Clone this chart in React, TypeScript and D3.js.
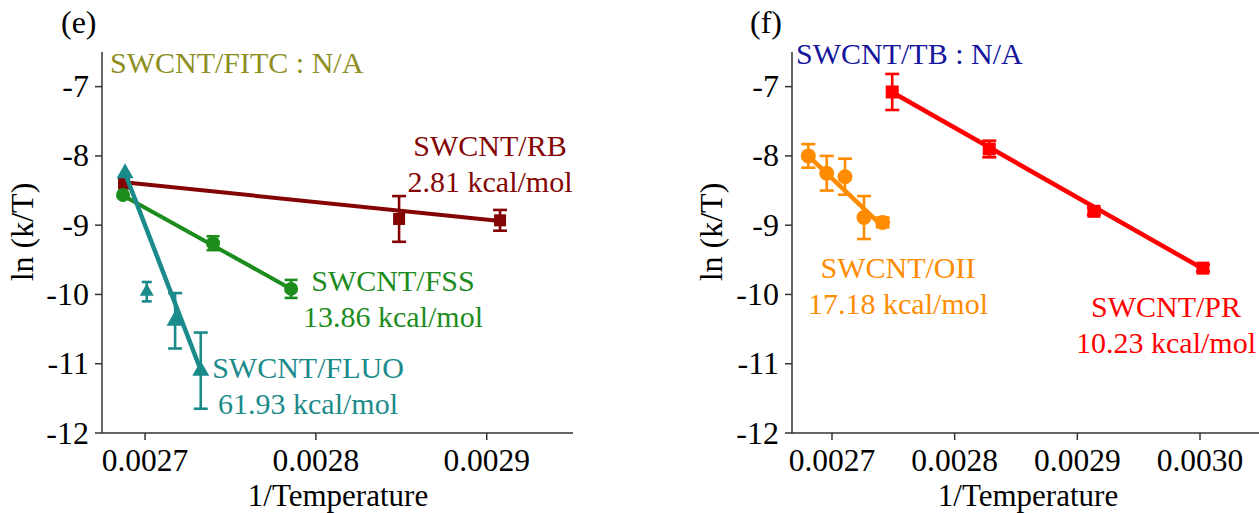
import React from "react";
import * as d3 from "d3";

// ---------- data ----------
const yTicks = [-7, -8, -9, -10, -11, -12];
const leftXTicks = [0.0027, 0.0028, 0.0029];
const rightXTicks = [0.0027, 0.0028, 0.0029, 0.003];

// panel (e)
const rbX = [0.0026877, 0.0028487, 0.0029078];
const rbY = [-8.4, -8.91, -8.93];
const rbErr = [0, 0.33, 0.15];
const rbFitX = [0.0026877, 0.0029078];
const rbFitY = [-8.38, -8.94];

const fssX = [0.0026871, 0.0027398, 0.0027855];
const fssY = [-8.565, -9.26, -9.92];
const fssErr = [0, 0.1, 0.13];
const fssFitX = [0.0026871, 0.0027855];
const fssFitY = [-8.57, -9.92];

const fluoX = [0.0026883, 0.0027176, 0.0027326];
const fluoY = [-8.25, -10.38, -11.1];
const fluoErr = [0, 0.4, 0.55];
const fluoFitX = [0.0026883, 0.0027332];
const fluoFitY = [-8.25, -11.13];

const fluoOutX = [0.002701];
const fluoOutY = [-9.96];
const fluoOutErr = [0.14];

// panel (f)
const prX = [0.0027491, 0.0028282, 0.0029135, 0.0030024];
const prY = [-7.077, -7.9, -8.8, -9.62];
const prErr = [0.26, 0.12, 0.05, 0.05];
const prFitX = [0.0027491, 0.0030024];
const prFitY = [-7.08, -9.63];

const oiiX = [0.0026807, 0.0026957, 0.0027106, 0.0027261, 0.0027413];
const oiiY = [-8.0, -8.25, -8.3, -8.89, -8.96];
const oiiErr = [0.17, 0.25, 0.26, 0.31, 0.07];
const oiiFitX = [0.0026807, 0.0027391];
const oiiFitY = [-8.0, -8.98];

// ---------- styles ----------
const FONT = "'Liberation Serif', 'Times New Roman', serif";
const C_RB = "#840404";
const C_FSS = "#1c8c1c";
const C_FLUO = "#1b8a8a";
const C_FITC = "#8e8e1e";
const C_TB = "#16169c";
const C_OII = "#ff8c00";
const C_PR = "#ff0000";
const AX = "#333";

const yScale = d3.scaleLinear().domain([-12, -6.5]).range([433, 52]);
const xLeft = d3.scaleLinear().domain([0.0026748, 0.0029505]).range([102, 573]);
const xRight = d3.scaleLinear().domain([0.0026674, 0.0030481]).range([792, 1259]);

type XS = d3.ScaleLinear<number, number>;

function Axes({ x, ticks, x0, x1 }: { x: XS; ticks: number[]; x0: number; x1: number }) {
  return (
    <g>
      <line x1={x0} x2={x0} y1={yScale(-6.5)} y2={yScale(-12)} stroke={AX} strokeWidth={1.5} />
      <line x1={x0} x2={x1} y1={yScale(-12)} y2={yScale(-12)} stroke={AX} strokeWidth={1.5} />
      {yTicks.map((t) => (
        <g key={"y" + t}>
          <line x1={x0 - 7} x2={x0} y1={yScale(t)} y2={yScale(t)} stroke={AX} strokeWidth={1.5} />
          <text x={x0 - 13} y={yScale(t)} dy="0.33em" textAnchor="end" fontSize={32} fontFamily={FONT} fill="#000">
            {String(t)}
          </text>
        </g>
      ))}
      {ticks.map((t) => (
        <g key={"x" + t}>
          <line x1={x(t)} x2={x(t)} y1={yScale(-12)} y2={yScale(-12) + 7} stroke={AX} strokeWidth={1.5} />
          <text x={x(t)} y={471} textAnchor="middle" fontSize={31.5} fontFamily={FONT} fill="#000">
            {t.toFixed(4)}
          </text>
        </g>
      ))}
    </g>
  );
}

function FitLine({ x, xs, ys, color, w }: { x: XS; xs: number[]; ys: number[]; color: string; w: number }) {
  const gen = d3
    .line<number>()
    .x((_, i) => x(xs[i]))
    .y((d) => yScale(d));
  return <path d={gen(ys) || ""} stroke={color} strokeWidth={w} fill="none" />;
}

function ErrBars({ x, xs, ys, es, color, cap }: { x: XS; xs: number[]; ys: number[]; es: number[]; color: string; cap: number }) {
  return (
    <g stroke={color} strokeWidth={2.6}>
      {xs.map((xv, i) => {
        if (!es[i]) return null;
        const cx = x(xv);
        const yt = yScale(ys[i] + es[i]);
        const yb = yScale(ys[i] - es[i]);
        return (
          <g key={i}>
            <line x1={cx} x2={cx} y1={yt} y2={yb} />
            <line x1={cx - cap / 2} x2={cx + cap / 2} y1={yt} y2={yt} />
            <line x1={cx - cap / 2} x2={cx + cap / 2} y1={yb} y2={yb} />
          </g>
        );
      })}
    </g>
  );
}

function Markers({ x, xs, ys, color, shape, size }: { x: XS; xs: number[]; ys: number[]; color: string; shape: string; size: number }) {
  return (
    <g fill={color}>
      {xs.map((xv, i) => {
        const cx = x(xv);
        const cy = yScale(ys[i]);
        if (shape === "circle") return <circle key={i} cx={cx} cy={cy} r={size / 2} />;
        if (shape === "square")
          return <rect key={i} x={cx - size / 2} y={cy - size / 2} width={size} height={size} />;
        const h = size * 0.88;
        const p = `M${cx},${cy - (2 * h) / 3} L${cx + size / 2},${cy + h / 3} L${cx - size / 2},${cy + h / 3} Z`;
        return <path key={i} d={p} />;
      })}
    </g>
  );
}

function Label({ x, y, lines, color, anchor = "middle", size = 30 }: { x: number; y: number; lines: string[]; color: string; anchor?: string; size?: number }) {
  return (
    <g>
      {lines.map((l, i) => (
        <text key={i} x={x} y={y + i * 36} textAnchor={anchor as any} fontSize={size} fontFamily={FONT} fill={color}>
          {l}
        </text>
      ))}
    </g>
  );
}

export default function App() {
  return (
    <div style={{ position: "absolute", left: 0, top: 0 }}>
      <svg width={1259} height={513} style={{ display: "block", background: "#fff" }}>
        {/* ----- panel (e) ----- */}
        <text x={61} y={33} fontSize={32} fontFamily={FONT} fill="#000">(e)</text>
        <Axes x={xLeft} ticks={leftXTicks} x0={102} x1={573} />
        <text x={338} y={506} textAnchor="middle" fontSize={31} fontFamily={FONT} fill="#000">1/Temperature</text>
        <text transform="translate(33,232) rotate(-90)" textAnchor="middle" fontSize={32} fontFamily={FONT} fill="#000">ln (k/T)</text>

        <FitLine x={xLeft} xs={rbFitX} ys={rbFitY} color={C_RB} w={4} />
        <FitLine x={xLeft} xs={fssFitX} ys={fssFitY} color={C_FSS} w={4} />
        <ErrBars x={xLeft} xs={rbX} ys={rbY} es={rbErr} color={C_RB} cap={14} />
        <Markers x={xLeft} xs={rbX} ys={rbY} color={C_RB} shape="square" size={12} />
        <ErrBars x={xLeft} xs={fssX} ys={fssY} es={fssErr} color={C_FSS} cap={13} />
        <Markers x={xLeft} xs={fssX} ys={fssY} color={C_FSS} shape="circle" size={14} />
        <FitLine x={xLeft} xs={fluoFitX} ys={fluoFitY} color={C_FLUO} w={4.5} />
        <ErrBars x={xLeft} xs={fluoX} ys={fluoY} es={fluoErr} color={C_FLUO} cap={14} />
        <Markers x={xLeft} xs={fluoX} ys={fluoY} color={C_FLUO} shape="triangle" size={17} />
        <ErrBars x={xLeft} xs={fluoOutX} ys={fluoOutY} es={fluoOutErr} color={C_FLUO} cap={10} />
        <Markers x={xLeft} xs={fluoOutX} ys={fluoOutY} color={C_FLUO} shape="triangle" size={14} />

        <Label x={110} y={73} lines={["SWCNT/FITC : N/A"]} color={C_FITC} anchor="start" />
        <Label x={490} y={156} lines={["SWCNT/RB", "2.81 kcal/mol"]} color={C_RB} />
        <Label x={393} y={291} lines={["SWCNT/FSS", "13.86 kcal/mol"]} color={C_FSS} />
        <Label x={308} y={378} lines={["SWCNT/FLUO", "61.93 kcal/mol"]} color={C_FLUO} />

        {/* ----- panel (f) ----- */}
        <text x={750} y={33} fontSize={32} fontFamily={FONT} fill="#000">(f)</text>
        <Axes x={xRight} ticks={rightXTicks} x0={792} x1={1259} />
        <text x={1028} y={506} textAnchor="middle" fontSize={31} fontFamily={FONT} fill="#000">1/Temperature</text>
        <text transform="translate(722,232) rotate(-90)" textAnchor="middle" fontSize={32} fontFamily={FONT} fill="#000">ln (k/T)</text>

        <FitLine x={xRight} xs={prFitX} ys={prFitY} color={C_PR} w={4.5} />
        <ErrBars x={xRight} xs={prX} ys={prY} es={prErr} color={C_PR} cap={14} />
        <Markers x={xRight} xs={prX} ys={prY} color={C_PR} shape="square" size={13} />
        <FitLine x={xRight} xs={oiiFitX} ys={oiiFitY} color={C_OII} w={4.5} />
        <ErrBars x={xRight} xs={oiiX} ys={oiiY} es={oiiErr} color={C_OII} cap={14} />
        <Markers x={xRight} xs={oiiX} ys={oiiY} color={C_OII} shape="circle" size={15} />

        <Label x={796} y={64} lines={["SWCNT/TB : N/A"]} color={C_TB} anchor="start" />
        <Label x={898} y={278} lines={["SWCNT/OII", "17.18 kcal/mol"]} color={C_OII} />
        <Label x={1166} y={317} lines={["SWCNT/PR", "10.23 kcal/mol"]} color={C_PR} />
      </svg>
    </div>
  );
}
